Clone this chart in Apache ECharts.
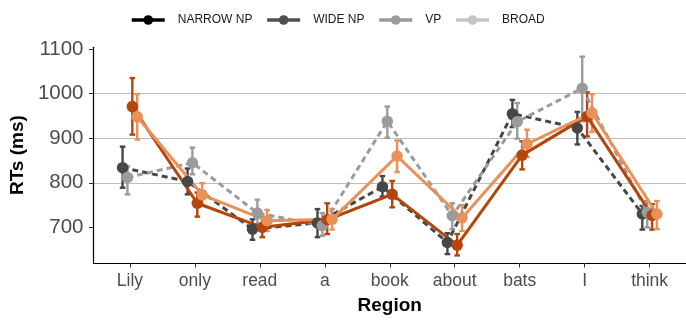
<!DOCTYPE html>
<html><head><meta charset="utf-8">
<script src="https://cdn.jsdelivr.net/npm/echarts@6/dist/echarts.min.js"></script>
<style>html,body{margin:0;padding:0;background:#fff}#c{width:686px;height:320px}</style>
</head><body><div id="c"></div>
<script>
const regions = ['Lily','only','read','a','book','about','bats','I','think'];
const legendNames = ['NARROW NP','WIDE NP','VP','BROAD'];
const yTicks = [700, 800, 900, 1000, 1100];

const narrowMean = [834, 803, 696, 710, 791, 666, 955, 923, 730];
const narrowLow  = [789, 774, 672, 678, 769, 640, 925, 886, 695];
const narrowHigh = [881, 832, 718, 741, 815, 687, 986, 959, 748];

const wideMean = [812, 845, 732, 704, 938, 726, 937, 1012, 734];
const wideLow  = [774, 819, 707, 681, 901, 696, 899, 938, 700];
const wideHigh = [837, 879, 762, 732, 971, 754, 979, 1083, 759];

const vpMean = [971, 754, 700, 717, 774, 660, 862, 949, 727];
const vpLow  = [908, 724, 678, 685, 745, 637, 830, 904, 695];
const vpHigh = [1035, 778, 722, 754, 804, 685, 893, 1003, 752];

const broadMean = [948, 773, 715, 718, 860, 721, 887, 957, 730];
const broadLow  = [897, 748, 692, 695, 824, 692, 858, 914, 696];
const broadHigh = [999, 799, 739, 741, 895, 750, 919, 999, 759];

const legendColors = ['#000000', '#505050', '#9a9a9a', '#c4c4c4'];
const plotColors = ['#474747', '#9b9b9b', '#b4460c', '#e8925a'];
const lineTypes = ['dashed', 'dashed', 'solid', 'solid'];
const dodge = 0.3;

const groups = [
  [narrowMean, narrowLow, narrowHigh],
  [wideMean, wideLow, wideHigh],
  [vpMean, vpLow, vpHigh],
  [broadMean, broadLow, broadHigh]
];
const xTickValues = regions.map((r, i) => i);

function renderErr(params, api) {
  const x = api.value(0);
  const lo = api.coord([x, api.value(1)]);
  const hi = api.coord([x, api.value(2)]);
  const w = 2.8;
  const style = { stroke: api.visual('color'), lineWidth: 2.4 };
  return { type: 'group', children: [
    { type: 'line', shape: { x1: lo[0], y1: lo[1], x2: hi[0], y2: hi[1] }, style },
    { type: 'line', shape: { x1: lo[0] - w, y1: lo[1], x2: lo[0] + w, y2: lo[1] }, style },
    { type: 'line', shape: { x1: hi[0] - w, y1: hi[1], x2: hi[0] + w, y2: hi[1] }, style }
  ]};
}

const series = [];
legendNames.forEach((n, k) => {
  series.push({
    name: n, type: 'line', data: [],
    symbol: 'circle', symbolSize: 10,
    itemStyle: { color: legendColors[k] },
    lineStyle: { color: legendColors[k], width: 3.5 }
  });
});
groups.forEach((g, k) => {
  const off = (k - 1.5) * dodge / 4;
  series.push({
    name: legendNames[k] + ' err', type: 'custom', z: 2,
    itemStyle: { color: plotColors[k] },
    renderItem: renderErr,
    encode: { x: 0, y: [1, 2] },
    data: regions.map((r, i) => [i + off, g[1][i], g[2][i]])
  });
});
groups.forEach((g, k) => {
  const off = (k - 1.5) * dodge / 4;
  series.push({
    name: legendNames[k] + ' mean', type: 'line', z: 3,
    symbol: 'circle', symbolSize: 11.5, showSymbol: true,
    itemStyle: { color: plotColors[k] },
    lineStyle: { color: plotColors[k], width: 3, type: lineTypes[k] === 'dashed' ? [6, 4] : 'solid' },
    data: regions.map((r, i) => [i + off, g[0][i]])
  });
});

const chart = echarts.init(document.getElementById('c'), null, { renderer: 'canvas' });
chart.setOption({
  animation: false,
  backgroundColor: '#ffffff',
  legend: {
    data: legendNames, top: 9, left: 125, itemWidth: 33, itemHeight: 12, itemGap: 13,
    lineStyle: { width: 3.5 },
    textStyle: { fontSize: 12, color: '#1a1a1a', fontFamily: 'Liberation Sans', padding: [0, 0, 0, 8] }
  },
  grid: { left: 92.5, right: 0, top: 47.3, bottom: 56, containLabel: false },
  xAxis: {
    type: 'value', min: -0.56, max: 8.56,
    axisLine: { show: true, onZero: false, lineStyle: { color: '#000', width: 1.2 } },
    axisTick: { show: true, length: 4.5, lineStyle: { color: '#333' }, customValues: xTickValues },
    axisLabel: { fontSize: 17.5, color: '#4d4d4d', margin: 9, fontFamily: 'Liberation Sans',
      customValues: xTickValues, formatter: (v) => regions[Math.round(v)] },
    splitLine: { show: false },
    name: 'Region', nameLocation: 'middle', nameGap: 33,
    nameTextStyle: { fontSize: 19, fontWeight: 'bold', color: '#000', fontFamily: 'Liberation Sans' }
  },
  yAxis: {
    type: 'value', min: 620, max: 1104, splitNumber: 5,
    axisLine: { show: true, onZero: false, lineStyle: { color: '#000', width: 1.2 } },
    axisTick: { show: true, length: 4.5, lineStyle: { color: '#333' }, customValues: yTicks },
    axisLabel: { fontSize: 20.5, color: '#4d4d4d', margin: 10, fontFamily: 'Liberation Sans', customValues: yTicks,
      formatter: (v) => String(v) },
    splitLine: { show: true, showMinLine: false, showMaxLine: false, lineStyle: { color: '#bdbdbd', width: 1 } },
    name: 'RTs (ms)', nameLocation: 'middle', nameGap: 60,
    nameTextStyle: { fontSize: 19, fontWeight: 'bold', color: '#000', fontFamily: 'Liberation Sans' }
  },
  series: series
});
</script></body></html>
